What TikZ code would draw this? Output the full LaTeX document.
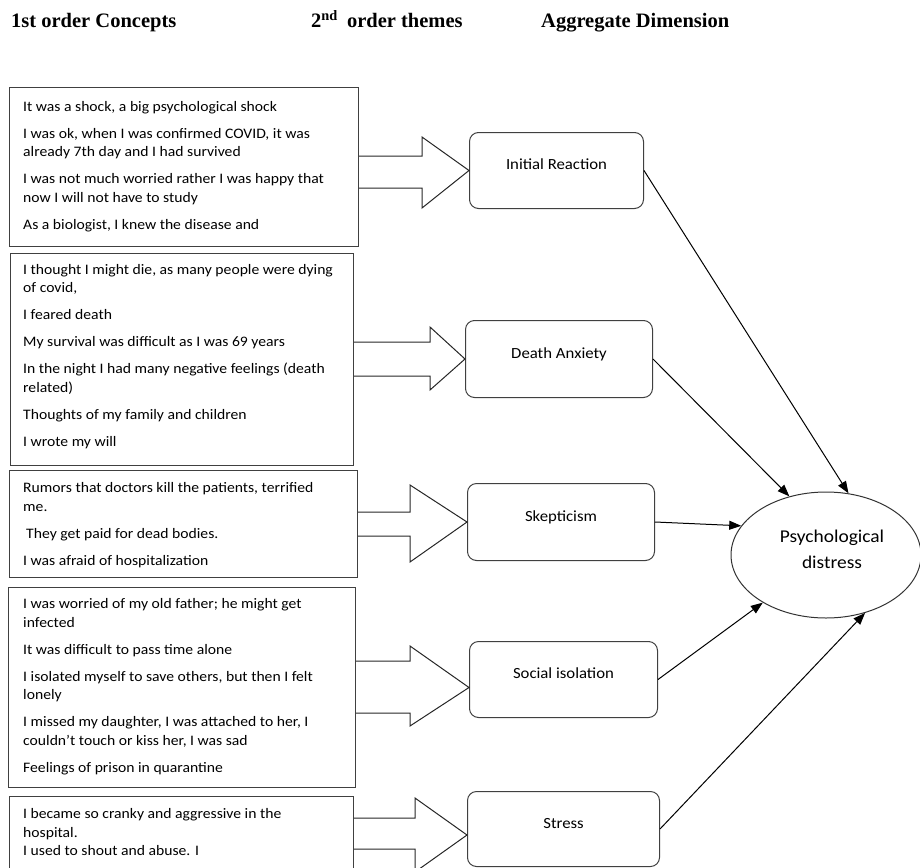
\documentclass[tikz,border=0pt]{standalone}
\usepackage{fontspec}
\setmainfont{Carlito}[FakeStretch=1.08]
\newfontfamily\hdrfont{Liberation Serif}
\usetikzlibrary{arrows.meta,shapes.geometric,calc}
\newcommand\themelbl[1]{\raisebox{5pt}[\height][\depth]{#1}}
\begin{document}
\begin{tikzpicture}[x=1pt,y=-1pt,
  conceptbox/.style={draw=black!75,line width=1pt,anchor=north west,inner sep=0pt},
  concepttext/.style={anchor=west,align=left,inner sep=0pt,font=\fontsize{14.5}{18.5}\selectfont},
  themebox/.style={draw=black!75,line width=1pt,rounded corners=9pt,anchor=north west,inner sep=0pt,
    text height=11pt,text depth=3pt,font=\fontsize{15.5}{18}\selectfont},
  blockarrow/.style={draw=black!85,line width=1pt,line join=miter},
  link/.style={draw=black,line width=1pt,-{Triangle[length=12pt,width=9pt]}},
  header/.style={anchor=base west,inner sep=0pt,font=\hdrfont\bfseries\fontsize{20.5}{24}\selectfont}
]
\useasboundingbox (0,0) rectangle (920,867);
\clip (0,0) rectangle (920,867);

% headers
\node[header] (h1) at (11,28) {1st order Concepts};
\node[header] (h2) at (311,28) {2\textsuperscript{nd}\hspace{4pt} order themes};
\node[header] (h3) at (541,28) {Aggregate Dimension};

% first-order boxes
\node[conceptbox,minimum width=349pt,minimum height=159pt] (b1) at (9,87) {};
\node[conceptbox,minimum width=343pt,minimum height=212pt] (b2) at (10,253) {};
\node[conceptbox,minimum width=348pt,minimum height=107pt] (b3) at (9,470) {};
\node[conceptbox,minimum width=347pt,minimum height=200pt] (b4) at (8,587) {};
\node[conceptbox,minimum width=344pt,minimum height=120pt] (b5) at (9,796) {};

\node[concepttext] (x1) at (23,166.5) {It was a shock, a big psychological shock\\[8.5pt]
I was ok, when I was confirmed COVID, it was\\already 7th day and I had survived\\[8.5pt]
I was not much worried rather I was happy that\\now I will not have to study\\[8.5pt]
As a biologist, I knew the disease and};
\node[concepttext] (x2) at (23,356.5) {I thought I might die, as many people were dying\\of covid,\\[8.5pt]
I feared death\\[8.5pt]
My survival was difficult as I was 69 years\\[8.5pt]
In the night I had many negative feelings (death\\related)\\[8.5pt]
Thoughts of my family and children\\[8.5pt]
I wrote my will};
\node[concepttext] (x3) at (23,525) {Rumors that doctors kill the patients, terrified\\me.\\[8.5pt]
\hspace*{3pt}They get paid for dead bodies.\\[8.5pt]
I was afraid of hospitalization};
\node[concepttext] (x4) at (23,686.5) {I was worried of my old father; he might get\\infected\\[8.5pt]
It was difficult to pass time alone\\[8.5pt]
I isolated myself to save others, but then I felt\\lonely\\[8.5pt]
I missed my daughter, I was attached to her, I\\couldn’t touch or kiss her, I was sad\\[8.5pt]
Feelings of prison in quarantine};
\node[concepttext] (x5) at (23,832.5) {I became so cranky and aggressive in the\\hospital.\\I used to shout and abuse. I};

% second-order theme boxes
\node[themebox,minimum width=174pt,minimum height=76pt] (t1) at (469,132) {\themelbl{Initial Reaction}};
\node[themebox,minimum width=187pt,minimum height=77pt] (t2) at (465,320) {\themelbl{Death Anxiety}};
\node[themebox,minimum width=187pt,minimum height=77pt] (t3) at (467,483) {\themelbl{Skepticism}};
\node[themebox,minimum width=188pt,minimum height=76pt] (t4) at (469,641) {\themelbl{Social isolation}};
\node[themebox,minimum width=192pt,minimum height=75pt] (t5) at (467,791) {\themelbl{Stress}};

% aggregate dimension
\node[draw=black!80,line width=1pt,ellipse,minimum width=190pt,minimum height=126pt,inner sep=0pt] (pd) at (826,555) {};
\node[align=center,inner sep=0pt,font=\fontsize{18}{18}\selectfont] (pdtext) at ($(pd.center)+(6,-6)$) {Psychological\\[8pt]distress};

% block arrows
\draw[blockarrow] (b1.east |- 0,156) -- (422,156) -- (422,137) -- (t1.west) -- (422,208) -- (422,188) -- (b1.east |- 0,188);
\draw[blockarrow] (b2.east |- 0,342) -- (430,342) -- (430,327) -- (t2.west) -- (430,390) -- (430,376) -- (b2.east |- 0,376);
\draw[blockarrow] (b3.east |- 0,512) -- (410,512) -- (410,485) -- (t3.west) -- (410,562) -- (410,536) -- (b3.east |- 0,536);
\draw[blockarrow] (b4.east |- 0,661) -- (410,661) -- (410,646) -- ($(t4.west)+(0,8)$) -- (410,726) -- (410,713) -- (b4.east |- 0,713);
\draw[blockarrow] (b5.east |- 0,818) -- (415,818) -- (415,798) -- ($(t5.west)+(0,6)$) -- (415,872) -- (415,849) -- (b5.east |- 0,849);

% links to aggregate dimension
\draw[link] (t1.east) -- (pd.70);
\draw[link] (t2.east) -- (pd.122);
\draw[link] (t3.east) -- (pd.161);
\draw[link] (t4.east) -- (pd.217);
\draw[link] (t5.east) -- (pd.304);
\end{tikzpicture}
\end{document}
